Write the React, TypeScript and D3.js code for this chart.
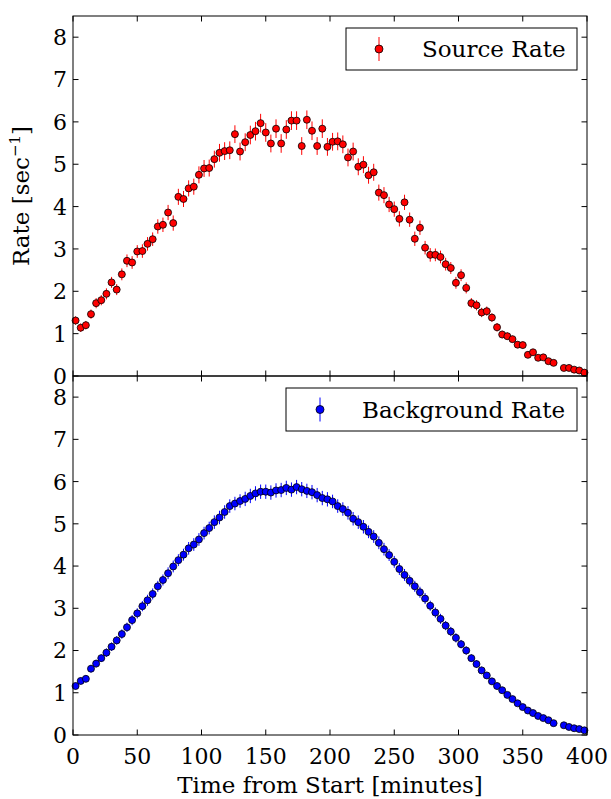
import React from "react";
import * as d3 from "d3";

const times = [2,6,10,14,18,22,26,30,34,38,42,46,50,54,58,62,66,70,74,78,82,86,90,94,98,102,106,110,114,118,122,126,130,134,138,142,146,150,154,158,162,166,170,174,178,182,186,190,194,198,202,206,210,214,218,222,226,230,234,238,242,246,250,254,258,262,266,270,274,278,282,286,290,294,298,302,306,310,314,318,322,326,330,334,338,342,346,350,354,358,362,366,370,374,378,382,386,390,394,398];

const sourceRate: (number | null)[] = [1.31,1.14,1.20,1.46,1.72,1.79,1.94,2.21,2.04,2.40,2.72,2.68,2.94,2.95,3.12,3.23,3.53,3.57,3.86,3.61,4.23,4.18,4.43,4.47,4.75,4.90,4.91,5.12,5.27,5.31,5.33,5.71,5.30,5.52,5.69,5.78,5.97,5.75,5.49,5.84,5.49,5.82,6.03,6.03,5.43,6.05,5.79,5.43,5.84,5.41,5.53,5.54,5.47,5.16,5.30,4.94,4.99,4.74,4.81,4.33,4.27,4.05,3.94,3.71,4.10,3.69,3.24,3.50,3.03,2.86,2.86,2.81,2.64,2.55,2.20,2.38,2.08,1.72,1.67,1.50,1.53,1.38,1.15,0.98,0.94,0.87,0.74,0.73,0.50,0.56,0.43,0.44,0.35,0.31,null,0.19,0.19,0.15,0.13,0.08];

const sourceErr = [0.10,0.10,0.10,0.11,0.12,0.12,0.13,0.13,0.13,0.14,0.15,0.15,0.15,0.16,0.16,0.16,0.17,0.17,0.18,0.18,0.19,0.19,0.19,0.19,0.20,0.20,0.20,0.20,0.21,0.21,0.21,0.21,0.21,0.21,0.22,0.22,0.22,0.22,0.21,0.22,0.22,0.22,0.22,0.22,0.21,0.22,0.22,0.21,0.22,0.21,0.21,0.21,0.21,0.21,0.21,0.20,0.20,0.20,0.20,0.19,0.19,0.18,0.18,0.18,0.18,0.17,0.17,0.17,0.16,0.16,0.15,0.15,0.15,0.14,0.14,0.14,0.13,0.12,0.12,0.11,0.11,0.10,0.10,0.09,0.09,0.08,0.08,0.08,0.07,0.07,0.06,0.06,0.05,0.05,0,0.04,0.04,0.04,0.03,0.03];

const backgroundRate: (number | null)[] = [1.16,1.28,1.33,1.57,1.69,1.82,1.95,2.09,2.24,2.39,2.55,2.72,2.88,3.05,3.19,3.34,3.52,3.67,3.83,3.99,4.14,4.27,4.42,4.51,4.63,4.78,4.90,5.04,5.15,5.28,5.42,5.48,5.54,5.59,5.66,5.72,5.76,5.76,5.74,5.79,5.80,5.85,5.81,5.87,5.82,5.78,5.75,5.68,5.61,5.58,5.53,5.42,5.35,5.26,5.12,5.04,4.93,4.81,4.70,4.55,4.40,4.26,4.10,3.93,3.79,3.65,3.52,3.38,3.23,3.06,2.90,2.75,2.59,2.45,2.30,2.15,2.00,1.82,1.68,1.53,1.41,1.27,1.16,1.06,0.95,0.85,0.75,0.66,0.58,0.52,0.45,0.40,0.35,0.28,null,0.23,0.19,0.16,0.14,0.11];

const backgroundErr = [0.075,0.08,0.08,0.09,0.09,0.09,0.10,0.10,0.10,0.11,0.11,0.12,0.12,0.12,0.13,0.13,0.13,0.13,0.14,0.14,0.14,0.14,0.15,0.15,0.15,0.15,0.15,0.16,0.16,0.16,0.16,0.16,0.16,0.17,0.17,0.17,0.17,0.17,0.17,0.17,0.17,0.17,0.17,0.17,0.17,0.17,0.17,0.17,0.17,0.17,0.16,0.16,0.16,0.16,0.16,0.16,0.16,0.15,0.15,0.15,0.15,0.14,0.14,0.14,0.14,0.13,0.13,0.13,0.13,0.12,0.12,0.12,0.11,0.11,0.11,0.10,0.10,0.09,0.09,0.09,0.08,0.08,0.08,0.07,0.07,0.06,0.06,0.06,0.05,0.05,0.05,0.04,0.04,0.04,0,0.03,0.03,0.03,0.03,0.02];

const xTicks = [0, 50, 100, 150, 200, 250, 300, 350, 400];
const yTicks = [0, 1, 2, 3, 4, 5, 6, 7, 8];

const W = 611, H = 799;
const LEFT = 73, RIGHT = 587;
const FONT = "'DejaVu Serif', serif";
const FS = 22;
const LFS = 23;
const TICK = 5.5;

type PanelProps = {
  top: number; bottom: number;
  values: (number | null)[]; errs: number[];
  color: string; label: string;
  legend: { x0: number; x1: number; y0: number; y1: number; mx: number; tx: number };
  showX: boolean;
};

function Panel({ top, bottom, values, errs, color, label, legend, showX }: PanelProps) {
  const x = d3.scaleLinear().domain([0, 400]).range([LEFT, RIGHT]);
  const y = d3.scaleLinear().domain([0, 8.5]).range([bottom, top]);
  const pts = times.map((t, i) => ({ t, v: values[i], e: errs[i] })).filter(p => p.v !== null) as { t: number; v: number; e: number }[];
  const ly = (legend.y0 + legend.y1) / 2;
  return (
    <g>
      {pts.map((p, i) => (
        <line key={"e" + i} x1={x(p.t)} x2={x(p.t)} y1={y(p.v - p.e)} y2={y(p.v + p.e)} stroke={color} strokeWidth={1} />
      ))}
      {pts.map((p, i) => (
        <circle key={"c" + i} cx={x(p.t)} cy={y(p.v)} r={3.5} fill={color} stroke="#000" strokeWidth={0.8} />
      ))}
      <rect x={LEFT} y={top} width={RIGHT - LEFT} height={bottom - top} fill="none" stroke="#000" strokeWidth={1} />
      {xTicks.map(t => (
        <g key={"xt" + t}>
          <line x1={x(t)} x2={x(t)} y1={bottom} y2={bottom - TICK} stroke="#000" strokeWidth={1} />
          <line x1={x(t)} x2={x(t)} y1={top} y2={top + TICK} stroke="#000" strokeWidth={1} />
          {showX && (
            <text x={x(t)} y={bottom + 29} textAnchor="middle" fontFamily={FONT} fontSize={FS}>{t}</text>
          )}
        </g>
      ))}
      {yTicks.map(t => (
        <g key={"yt" + t}>
          <line x1={LEFT} x2={LEFT + TICK} y1={y(t)} y2={y(t)} stroke="#000" strokeWidth={1} />
          <line x1={RIGHT} x2={RIGHT - TICK} y1={y(t)} y2={y(t)} stroke="#000" strokeWidth={1} />
          <text x={LEFT - 6} y={y(t)} dy="0.36em" textAnchor="end" fontFamily={FONT} fontSize={FS}>{t}</text>
        </g>
      ))}
      <rect x={legend.x0} y={legend.y0} width={legend.x1 - legend.x0} height={legend.y1 - legend.y0} fill="#fff" stroke="#000" strokeWidth={1} />
      <line x1={legend.mx} x2={legend.mx} y1={ly - 12} y2={ly + 12} stroke={color} strokeWidth={1} />
      <circle cx={legend.mx} cy={ly} r={4} fill={color} stroke="#000" strokeWidth={0.8} />
      <text x={legend.tx} y={ly} dy="0.36em" fontFamily={FONT} fontSize={LFS}>{label}</text>
    </g>
  );
}

export default function App() {
  return (
    <svg width={W} height={H} style={{ position: "absolute", left: 0, top: 0, display: "block", background: "#fff" }}>
      <rect x={0} y={0} width={W} height={H} fill="#fff" />
      <Panel top={16} bottom={376} values={sourceRate} errs={sourceErr} color="#ff0000" label="Source Rate" showX={false}
        legend={{ x0: 346, x1: 577, y0: 28, y1: 70, mx: 379, tx: 422 }} />
      <Panel top={376} bottom={735} values={backgroundRate} errs={backgroundErr} color="#0000ff" label="Background Rate" showX={true}
        legend={{ x0: 286, x1: 577, y0: 388, y1: 431, mx: 320, tx: 362 }} />
      <text transform={`translate(29,196) rotate(-90)`} textAnchor="middle" fontFamily={FONT} fontSize={LFS}>
        Rate [sec<tspan dy={-9} fontSize={15}>−1</tspan><tspan dy={9}>]</tspan>
      </text>
      <text x={(LEFT + RIGHT) / 2} y={793} textAnchor="middle" fontFamily={FONT} fontSize={LFS}>Time from Start [minutes]</text>
    </svg>
  );
}
